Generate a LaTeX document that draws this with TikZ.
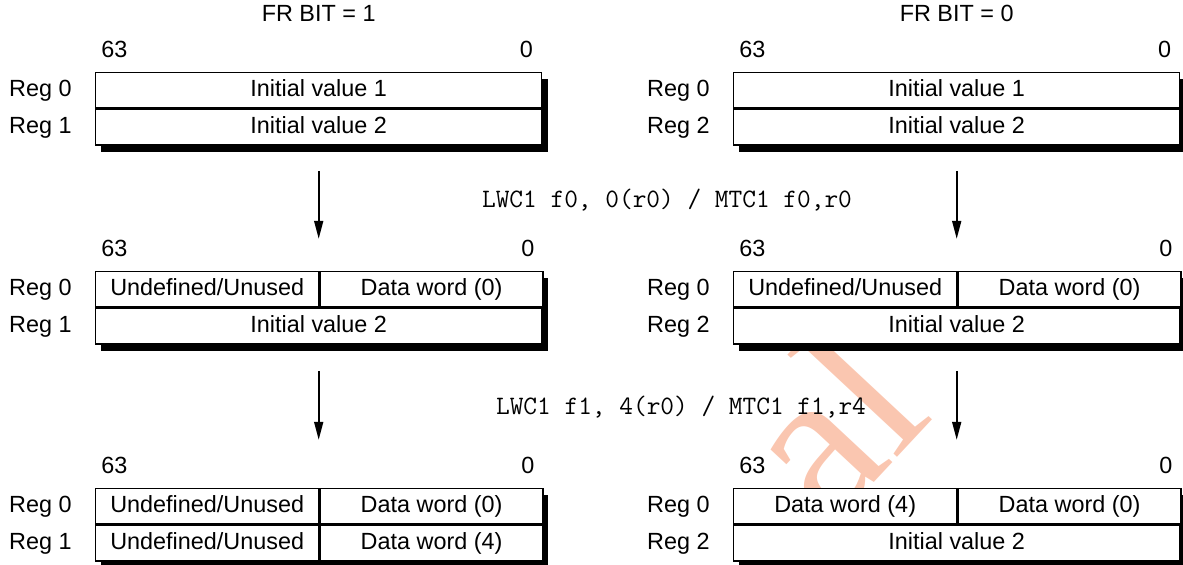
\documentclass[tikz,border=0pt]{standalone}
\usepackage{fontspec}
\setmainfont{Liberation Sans}
\newfontfamily\markfont{Liberation Serif}
\usepackage{tikz}
\usetikzlibrary{positioning,arrows.meta}
\definecolor{wmark}{RGB}{250,198,176}

\tikzset{
  cell/.style={draw, fill=white, line width=0.7pt, inner sep=0pt,
    minimum height=17.75pt, text height=8.6pt, text depth=2.4pt,
    anchor=north west},
  full/.style={cell, minimum width=223pt},
  half/.style={cell, minimum width=111.5pt},
  lbl/.style={inner sep=0pt, text height=8.6pt, text depth=2.4pt},
  code/.style={inner sep=0pt, font=\ttfamily\fontsize{13.3}{15}\selectfont},
  flow/.style={line width=0.9pt, -{Triangle[length=9pt, width=4.5pt]}},
}

\begin{document}
\begin{tikzpicture}[x=0.5pt, y=-0.5pt, font=\fontsize{11.7}{14}\selectfont]
  % Sizes
  \pgfmathsetmacro{\boxw}{446}
  \pgfmathsetmacro{\rowh}{35.5}
  \pgfmathsetmacro{\lx}{95}
  \pgfmathsetmacro{\rx}{733}
  \useasboundingbox (0,0) rectangle (1183,565);

  % watermark
  \node[inner sep=0pt, text=wmark, rotate=47, anchor=base east,
    font=\markfont\fontsize{108}{120}\selectfont] (mark) at (936,416) {al};

  % shadows
  \foreach \x in {\lx,\rx}
    \foreach \y in {72,271,488}
      \fill (\x+6,\y+7) rectangle (\x+\boxw+6.5,\y+2*\rowh+9.5);

  % registers, FR bit = 1
  \node[full] (L1a) at (\lx,72) {Initial value 1};
  \node[full] (L1b) at (L1a.south west) {Initial value 2};
  \node[half] (L2a1) at (\lx,271) {Undefined/Unused};
  \node[half, right=0pt of L2a1] (L2a2) {Data word (0)};
  \node[full] (L2b) at (L2a1.south west) {Initial value 2};
  \node[half] (L3a1) at (\lx,488) {Undefined/Unused};
  \node[half, right=0pt of L3a1] (L3a2) {Data word (0)};
  \node[half] (L3b1) at (L3a1.south west) {Undefined/Unused};
  \node[half, right=0pt of L3b1] (L3b2) {Data word (4)};

  % registers, FR bit = 0
  \node[full] (R1a) at (\rx,72) {Initial value 1};
  \node[full] (R1b) at (R1a.south west) {Initial value 2};
  \node[half] (R2a1) at (\rx,271) {Undefined/Unused};
  \node[half, right=0pt of R2a1] (R2a2) {Data word (0)};
  \node[full] (R2b) at (R2a1.south west) {Initial value 2};
  \node[half] (R3a1) at (\rx,488) {Data word (4)};
  \node[half, right=0pt of R3a1] (R3a2) {Data word (0)};
  \node[full] (R3b) at (R3a1.south west) {Initial value 2};

  % labels
  \node[lbl, above=22.5pt of L1a] (frl) {FR BIT = 1};
  \node[lbl, above=22.5pt of R1a] (frr) {FR BIT = 0};
  \foreach \a/\b in {L1a/L1b, L2a1/L2b, L3a1/L3b1} {
    \node[lbl, left=11.5pt of \a] {Reg 0};
    \node[lbl, left=11.5pt of \b] {Reg 1};
  }
  \foreach \a/\b in {R1a/R1b, R2a1/R2b, R3a1/R3b} {
    \node[lbl, left=11.5pt of \a] {Reg 0};
    \node[lbl, left=11.5pt of \b] {Reg 2};
  }
  \foreach \a/\b in {L1a/L1a, L2a1/L2a2, L3a1/L3a2, R1a/R1a, R2a1/R2a2, R3a1/R3a2} {
    \node[inner sep=0pt, anchor=base west] at ([shift={(3pt,7pt)}]\a.north west) {63};
    \node[inner sep=0pt, anchor=base east] at ([shift={(-4.5pt,7pt)}]\b.north east) {0};
  }

  % instructions
  \node[code] (cmd1) at (667,200) {LWC1 f0, 0(r0) / MTC1 f0,r0};
  \node[code] (cmd2) at (681,407) {LWC1 f1, 4(r0) / MTC1 f1,r4};

  % arrows
  \draw[flow] ([yshift=-12.5pt]L1b.south) -- ++(0,68);
  \draw[flow] ([yshift=-12.5pt]R1b.south) -- ++(0,68);
  \draw[flow] ([yshift=-13pt]L2b.south) -- ++(0,69);
  \draw[flow] ([yshift=-13pt]R2b.south) -- ++(0,69);
\end{tikzpicture}
\end{document}
